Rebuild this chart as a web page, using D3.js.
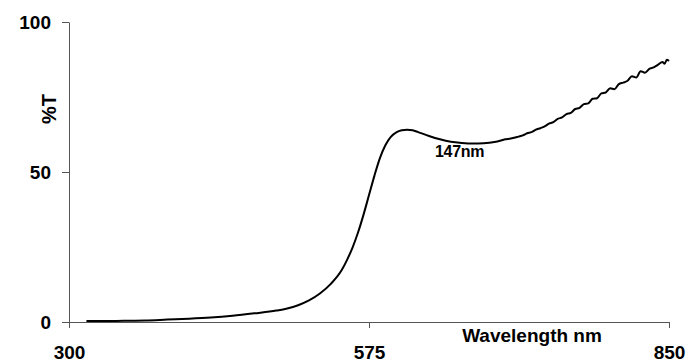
<!DOCTYPE html>
<html>
<head>
<meta charset="utf-8">
<script src="https://cdn.jsdelivr.net/npm/d3@7"></script>
<style>
  html, body { margin: 0; padding: 0; background: #fff; }
  svg text { font-family: "Liberation Sans", Arial, sans-serif; font-weight: bold; fill: #000; }
</style>
</head>
<body>
<svg id="chart" width="689" height="363"></svg>
<script>
// Transmission spectrum: wavelength (nm) and %T
const wavelengths = [
  316, 330, 350, 370, 390, 410, 430, 450, 470, 490,
  500, 510, 520, 530, 540, 550, 555, 560, 565, 570,
  575, 580, 585, 590, 595, 600, 605, 610, 615, 620,
  630, 640, 650, 660, 670, 680, 690, 696,
  700, 704, 708, 712, 716, 720, 724, 728, 732, 736,
  740, 744, 748, 752, 756, 760, 764, 768, 772, 776,
  780, 784, 788, 792, 796, 800, 804, 808, 812, 816,
  820, 824, 828, 832, 836, 840, 844, 846, 848, 850
];
const transmittance = [
  0.3, 0.3, 0.4, 0.5, 0.8, 1.1, 1.5, 2.1, 2.9, 3.8,
  4.5, 5.6, 7.2, 9.5, 12.7, 17.3, 20.8, 24.9, 29.9, 35.8,
  42.3, 48.8, 54.6, 58.9, 61.7, 63.2, 63.9, 64.1, 63.9, 63.3,
  62.0, 60.9, 60.1, 59.7, 59.5, 59.6, 60.0, 60.5,
  60.9, 61.1, 61.4, 61.8, 62.2, 62.9, 63.3, 64.1, 64.6, 65.2,
  66.1, 66.6, 67.7, 68.2, 69.3, 69.7, 71.0, 71.4, 72.6, 72.9,
  74.4, 74.6, 76.2, 76.5, 77.9, 77.6, 79.3, 79.8, 80.4, 81.9,
  81.5, 83.6, 83.1, 84.4, 84.9, 85.8, 86.7, 86.1, 87.4, 87.0
];
const xTicks = [300, 575, 850];
const yTicks = [0, 50, 100];
const peakLabel = "147nm";
const xTitle = "Wavelength nm";
const yTitle = "%T";

const svg = d3.select("#chart");
const plot = { left: 69, right: 669, top: 22, bottom: 322 };

const x = d3.scaleLinear().domain([300, 850]).range([plot.left, plot.right]);
const y = d3.scaleLinear().domain([0, 100]).range([plot.bottom, plot.top]);

const axisColor = "#555";

// Y axis
const gy = svg.append("g")
  .attr("transform", `translate(${plot.left},0)`)
  .call(d3.axisLeft(y).tickValues(yTicks).tickSize(7).tickSizeOuter(0).tickPadding(11));
gy.selectAll("text").style("font-size", "19px");

// X axis
const gx = svg.append("g")
  .attr("transform", `translate(0,${plot.bottom})`)
  .call(d3.axisBottom(x).tickValues(xTicks).tickSize(6).tickSizeOuter(0).tickPadding(18));
gx.selectAll("text").style("font-size", "19px");

svg.selectAll(".domain, .tick line").attr("stroke", axisColor).attr("stroke-width", 1);
svg.selectAll(".tick text").attr("fill", "#000");

// Spectrum curve
const pts = wavelengths.map((w, i) => [w, transmittance[i]]);
svg.append("path")
  .datum(pts)
  .attr("fill", "none")
  .attr("stroke", "#000")
  .attr("stroke-width", 2)
  .attr("stroke-linejoin", "round")
  .attr("d", d3.line().x(d => x(d[0])).y(d => y(d[1])).curve(d3.curveMonotoneX));

// Titles
svg.append("text")
  .attr("x", 532).attr("y", 342)
  .attr("text-anchor", "middle")
  .style("font-size", "19px")
  .text(xTitle);

svg.append("text")
  .attr("transform", "translate(56,109) rotate(-90)")
  .attr("text-anchor", "middle")
  .style("font-size", "20px")
  .text(yTitle);

// Annotation under the minimum
svg.append("text")
  .attr("x", 435).attr("y", 157)
  .style("font-size", "16px")
  .style("letter-spacing", "-0.3px")
  .text(peakLabel);
</script>
</body>
</html>
